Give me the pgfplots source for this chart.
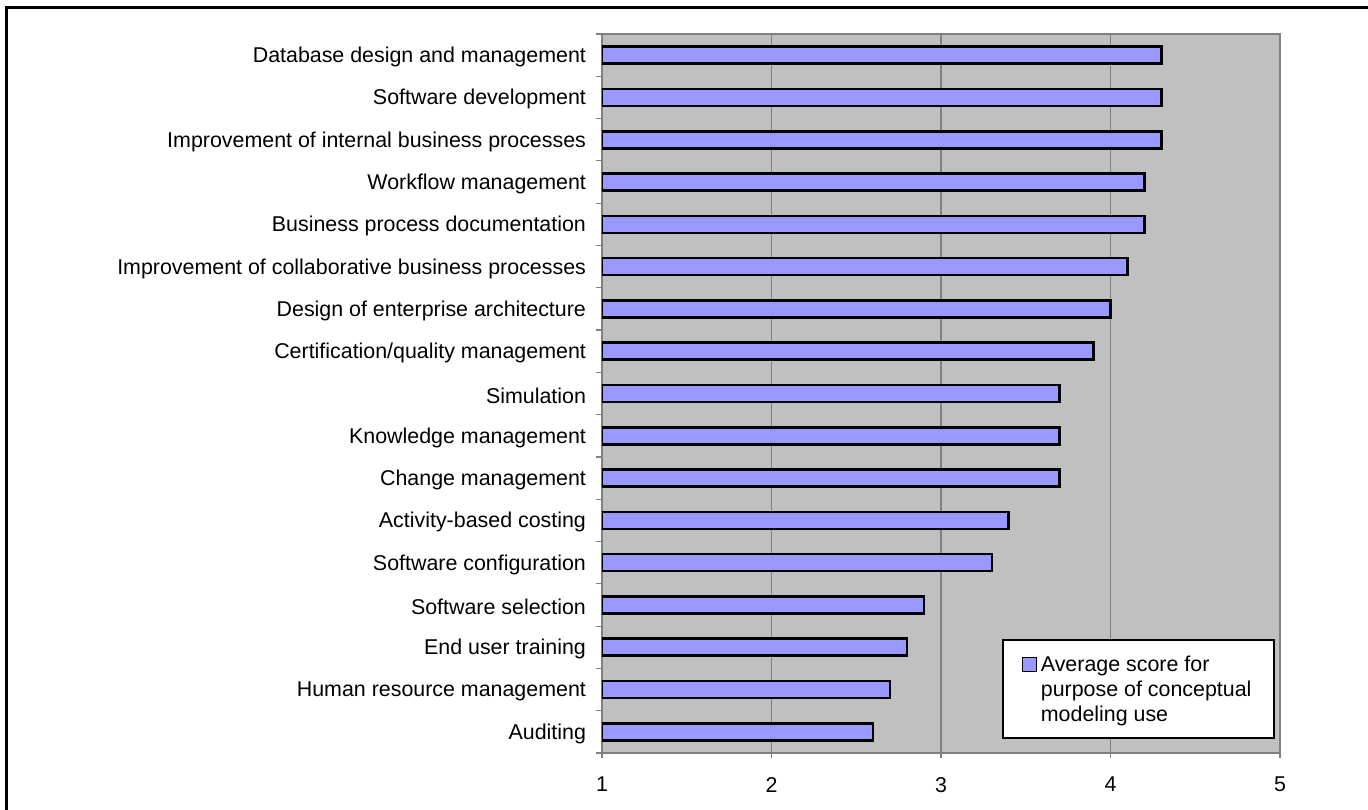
\documentclass[border=0pt]{standalone}
\usepackage{pgfplots}
\pgfplotsset{compat=1.18}
\usepackage{pgfplotstable}
\usepackage{fontspec}
\setmainfont{Liberation Sans}
\definecolor{barfill}{HTML}{9999FF}
\definecolor{plotbg}{HTML}{C0C0C0}
\definecolor{axgray}{HTML}{808080}
\pgfplotstableread[col sep=comma]{
y,v
0,4.3
1,4.3
2,4.3
3,4.2
4,4.2
5,4.1
6,4.0
7,3.9
8,3.7
9,3.7
10,3.7
11,3.4
12,3.3
13,2.9
14,2.8
15,2.7
16,2.6
}\scores
\begin{document}
\begin{tikzpicture}
\useasboundingbox (-301pt,-28pt) rectangle (383pt,376.5pt);
\draw[line width=1.5pt] (-297.5pt,-40pt) -- (-297.5pt,372.5pt) -- (395pt,372.5pt);
\begin{axis}[
  at={(0pt,0pt)}, anchor=south west,
  scale only axis, width=339pt, height=359.5pt,
  xbar stacked, bar width=8.5pt,
  xmin=1, xmax=5, ymin=-0.5, ymax=16.5, y dir=reverse,
  xtick={1,2,3,4,5}, xtick pos=bottom, ytick pos=left,
  xmajorgrids, grid style={axgray, line width=0.6pt},
  ytick={0,...,16},
  yticklabels={Database design and management,Software development,Improvement of internal business processes,Workflow management,Business process documentation,Improvement of collaborative business processes,Design of enterprise architecture,Certification/quality management,Simulation,Knowledge management,Change management,Activity-based costing,Software configuration,Software selection,End user training,Human resource management,Auditing},
  major y tick style={draw=none},
  minor ytick={-0.5,0.5,...,16.5},
  minor tick length=3pt,
  major tick length=2.5pt,
  tick align=outside,
  tick style={axgray, line width=0.6pt},
  axis background/.style={fill=plotbg},
  axis line style={axgray, line width=1pt},
  tick label style={font=\fontsize{10.7}{13}\selectfont},
  /pgf/number format/assume math mode=true,
  yticklabel style={xshift=-2pt, yshift=-1pt},
  xticklabel style={yshift=-6pt},
  legend style={at={(0.9926,0.019)}, anchor=south east, draw=black, line width=1pt, fill=white,
    font=\fontsize{10.7}{12.5}\selectfont, inner xsep=9.25pt, inner ysep=5pt},
  legend cell align=left,
  legend image code/.code={\draw[#1, line width=0.6pt] (0pt,9pt) rectangle (7pt,16pt);},
]
\addplot[draw=none, fill=none, forget plot] table[x expr=1, y=y] {\scores};
\addplot[fill=barfill, draw=black, line width=1.3pt] table[x expr=\thisrow{v}-1, y=y] {\scores};
\legend{\begin{tabular}[b]{@{}l@{}}Average score for\\purpose of conceptual\\modeling use\end{tabular}}
\end{axis}
\end{tikzpicture}
\end{document}
